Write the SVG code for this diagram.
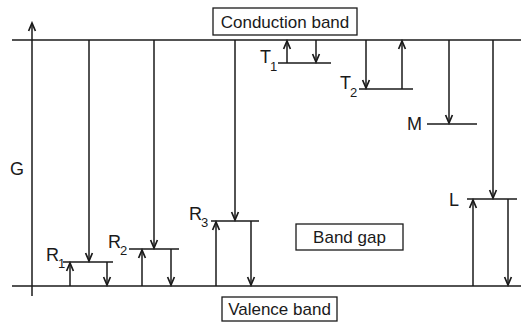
<svg xmlns="http://www.w3.org/2000/svg" width="521" height="322" viewBox="0 0 521 322">
<defs>
<marker id="ah" markerUnits="userSpaceOnUse" markerWidth="12" markerHeight="12" viewBox="-10 -6 12 12" refX="0" refY="0" orient="auto">
<path d="M-8,-3.4 L0,0 L-8,3.4" fill="none" stroke="#1a1a1a" stroke-width="1.7"/>
</marker>
</defs>
<style>
.ln{stroke:#1a1a1a;stroke-width:1.6;fill:none}
.bx{stroke:#1a1a1a;stroke-width:1.3;fill:#fff}
.t{font-family:"Liberation Sans",Arial,sans-serif;font-size:17px;fill:#1a1a1a}
.l{font-family:"Liberation Sans",Arial,sans-serif;font-size:18px;fill:#1a1a1a}
.s{font-family:"Liberation Sans",Arial,sans-serif;font-size:13px;fill:#1a1a1a}
.ar{stroke:#1a1a1a;stroke-width:1.5;fill:none;marker-end:url(#ah)}
</style>
<rect width="521" height="322" fill="#fff"/>
<g id="conduction-band">
<line class="ln" x1="12" y1="40" x2="521" y2="40"/>
<rect class="bx" x="213" y="8" width="144" height="27"/>
<text class="t" x="285" y="28" text-anchor="middle">Conduction band</text>
</g>
<g id="valence-band">
<line class="ln" x1="12" y1="286" x2="521" y2="286"/>
<rect class="bx" x="222" y="297" width="115" height="24"/>
<text class="t" x="279.5" y="315" text-anchor="middle">Valence band</text>
</g>
<g id="band-gap">
<rect class="bx" x="296" y="224" width="107" height="26"/>
<text class="t" x="349.5" y="243" text-anchor="middle">Band gap</text>
</g>
<g id="G">
<text class="l" x="10" y="175">G</text>
</g>
<g id="R1">
<line class="ln" x1="63" y1="262" x2="113" y2="262"/>
<text class="l" x="46" y="261">R</text><text class="s" x="58" y="268">1</text>
</g>
<g id="R2">
<line class="ln" x1="129" y1="249" x2="179" y2="249"/>
<text class="l" x="108" y="248">R</text><text class="s" x="120" y="255">2</text>
</g>
<g id="R3">
<line class="ln" x1="211" y1="221" x2="259" y2="221"/>
<text class="l" x="189" y="220">R</text><text class="s" x="201" y="227">3</text>
</g>
<g id="T1">
<line class="ln" x1="278" y1="63" x2="331" y2="63"/>
<text class="l" x="260" y="63">T</text><text class="s" x="270" y="71">1</text>
</g>
<g id="T2">
<line class="ln" x1="359" y1="89" x2="413" y2="89"/>
<text class="l" x="340" y="89">T</text><text class="s" x="350" y="97">2</text>
</g>
<g id="M">
<line class="ln" x1="427" y1="124" x2="477" y2="124"/>
<text class="l" x="407" y="130">M</text>
</g>
<g id="L">
<line class="ln" x1="467" y1="199" x2="517" y2="199"/>
<text class="l" x="449" y="206">L</text>
</g>
<g id="connectors">
<line class="ar" x1="32" y1="296" x2="32" y2="23"/>
<line class="ar" x1="89" y1="40" x2="89" y2="261"/>
<line class="ar" x1="70" y1="286" x2="70" y2="263"/>
<line class="ar" x1="107" y1="262" x2="107" y2="285"/>
<line class="ar" x1="154" y1="40" x2="154" y2="248"/>
<line class="ar" x1="142" y1="286" x2="142" y2="250"/>
<line class="ar" x1="171" y1="249" x2="171" y2="285"/>
<line class="ar" x1="235" y1="40" x2="235" y2="220"/>
<line class="ar" x1="216" y1="286" x2="216" y2="222"/>
<line class="ar" x1="251" y1="221" x2="251" y2="285"/>
<line class="ar" x1="287" y1="63" x2="287" y2="41"/>
<line class="ar" x1="316" y1="40" x2="316" y2="62"/>
<line class="ar" x1="366" y1="40" x2="366" y2="88"/>
<line class="ar" x1="402" y1="89" x2="402" y2="41"/>
<line class="ar" x1="449" y1="40" x2="449" y2="123"/>
<line class="ar" x1="493" y1="40" x2="493" y2="198"/>
<line class="ar" x1="473" y1="286" x2="473" y2="200"/>
<line class="ar" x1="508" y1="199" x2="508" y2="285"/>
</g>
</svg>
